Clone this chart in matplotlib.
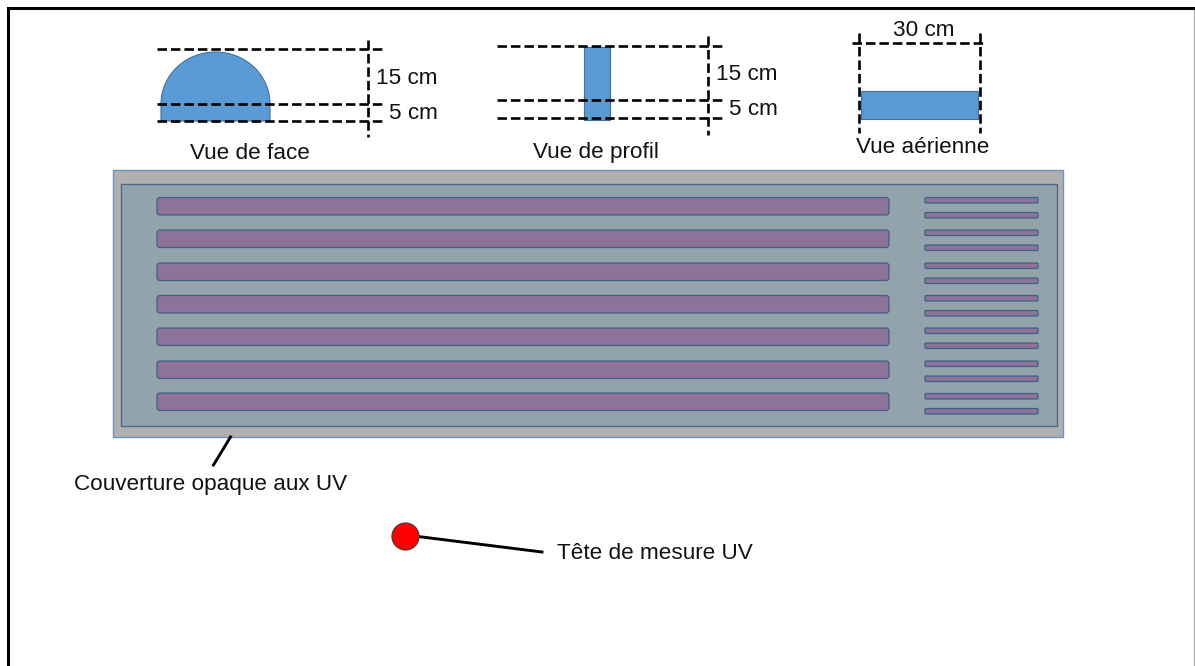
import matplotlib
matplotlib.use("Agg")
import matplotlib.pyplot as plt
from matplotlib.patches import Rectangle, FancyBboxPatch, Circle, PathPatch
from matplotlib.path import Path as MplPath

W, H = 1195, 666

# COLOURS
BLUE = "#5B9BD5"
EDGE = "#41719C"
GREY = "#B0B0B0"
SLATE = "#93A3AC"
PURPLE = "#8E7398"
BAR_EDGE = "#3F6088"

# DIMENSIONS (pixel coordinates)
long_bar_tops = [197.5, 230, 263, 295.5, 328, 361, 393]
short_bar_tops = [197.5, 212.5, 230, 245, 263, 278, 295.5, 310.5, 328, 343, 361, 376, 393.5, 408.5]

# (x0, x1, y) horizontal dashes, (x, y0, y1) vertical dashes
h_dashes = [
    (157, 382, 49), (157, 382, 104), (157, 382, 121),
    (497, 722, 46), (497, 722, 100), (497, 722, 118),
    (852, 984, 43),
]
v_dashes = [(368, 40, 137), (708, 36, 135), (859, 33, 133), (980, 33, 133)]

labels = [
    ("15 cm", 407, 78.5), ("5 cm", 413, 113.5), ("Vue de face", 250, 153.5),
    ("15 cm", 747, 74.5), ("5 cm", 753, 109.5), ("Vue de profil", 595.5, 152.5),
    ("30 cm", 923.5, 30.5), ("Vue aérienne", 922.5, 147.5),
    ("Couverture opaque aux UV", 210.5, 484.5),
    ("Tête de mesure UV", 654.5, 553.5),
]

plt.rcParams["font.family"] = ["Liberation Sans", "DejaVu Sans"]

fig = plt.figure(figsize=(W / 100, H / 100), dpi=100)
ax = fig.add_axes([0, 0, 1, 1])
ax.set_xlim(0, W)
ax.set_ylim(H, 0)
ax.axis("off")

# FRAME: black top and left, thin grey right edge
ax.plot([1194.5, 1194.5], [9, H], color="#A8A8A8", lw=0.9)
ax.plot([8, 8, W + 5], [H + 5, 7.5, 7.5], color="black", lw=2.2, solid_joinstyle="miter")

# COVER AND INNER PANEL
ax.add_patch(Rectangle((113.5, 169.5), 950, 267, fc=GREY, ec="#6F93BD", lw=1))
ax.add_patch(Rectangle((121.5, 183.5), 935.5, 242.5, fc=SLATE, ec="#4C6A88", lw=1))

# LAMPS
for top in long_bar_tops:
    ax.add_patch(FancyBboxPatch((159, top + 2), 728, 13.5, boxstyle="round,pad=2,rounding_size=3",
                                fc=PURPLE, ec=BAR_EDGE, lw=0.9))
for top in short_bar_tops:
    ax.add_patch(FancyBboxPatch((926, top + 1), 111, 3.5, boxstyle="round,pad=1,rounding_size=1",
                                fc=PURPLE, ec=BAR_EDGE, lw=0.9))

# FRONT VIEW SHAPE
k = 0.5523
cx, rx, ry, y_top, y_base = 215.5, 54.5, 52, 52, 121
y_mid = y_top + ry
verts = [
    (cx - rx, y_base), (cx - rx, y_mid),
    (cx - rx, y_mid - k * ry), (cx - k * rx, y_top), (cx, y_top),
    (cx + k * rx, y_top), (cx + rx, y_mid - k * ry), (cx + rx, y_mid),
    (cx + rx, y_base), (cx - rx, y_base),
]
codes = [MplPath.MOVETO, MplPath.LINETO] + [MplPath.CURVE4] * 6 + [MplPath.LINETO, MplPath.CLOSEPOLY]
ax.add_patch(PathPatch(MplPath(verts, codes), fc=BLUE, ec=EDGE, lw=0.8))

# PROFILE AND TOP VIEW SHAPES
ax.add_patch(Rectangle((584.5, 46.5), 26, 73, fc=BLUE, ec=EDGE, lw=0.8))
ax.add_patch(Rectangle((861, 91), 117.5, 27.5, fc=BLUE, ec=EDGE, lw=0.8))

# DASHED DIMENSION LINES
dash = dict(color="black", lw=1.9, linestyle=(0, (3.6, 1.5)))
for x0, x1, y in h_dashes:
    ax.plot([x0, x1], [y, y], **dash)
for x, y0, y1 in v_dashes:
    ax.plot([x, x], [y0, y1], **dash)

# LEADER LINES AND PROBE
ax.plot([230.5, 213.5], [437, 465], color="black", lw=2.1)
ax.plot([418, 542], [536.5, 552], color="black", lw=2.1)
ax.add_patch(Circle((405.5, 536.5), 13.5, fc="#FF0000", ec="#5A3A3A", lw=0.9, zorder=5))

# TEXT
for text, x, y in labels:
    ax.text(x, y, text, ha="center", va="center", fontsize=16.2, color="#111111")

fig.savefig("out.png", dpi=100)
